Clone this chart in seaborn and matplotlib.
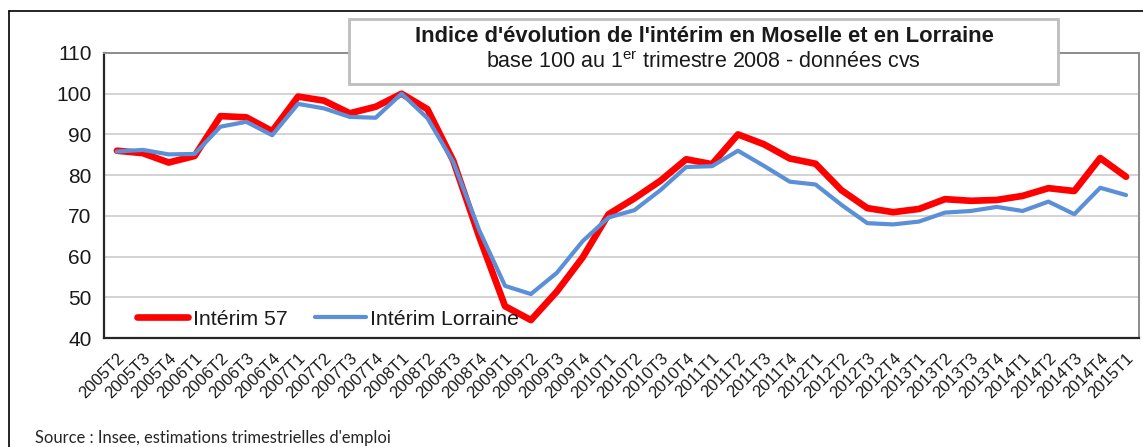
import numpy as np
import pandas as pd
import matplotlib
matplotlib.use("Agg")
import matplotlib.pyplot as plt
import seaborn as sns
from matplotlib.patches import Rectangle
from matplotlib.lines import Line2D

categories = ["2005T2", "2005T3", "2005T4",
              "2006T1", "2006T2", "2006T3", "2006T4",
              "2007T1", "2007T2", "2007T3", "2007T4",
              "2008T1", "2008T2", "2008T3", "2008T4",
              "2009T1", "2009T2", "2009T3", "2009T4",
              "2010T1", "2010T2", "2010T3", "2010T4",
              "2011T1", "2011T2", "2011T3", "2011T4",
              "2012T1", "2012T2", "2012T3", "2012T4",
              "2013T1", "2013T2", "2013T3", "2013T4",
              "2014T1", "2014T2", "2014T3", "2014T4",
              "2015T1"]

interim_57 = [86.0, 85.4, 83.1, 84.7, 94.5, 94.2, 90.8, 99.3, 98.3, 95.2,
              96.8, 100.0, 96.2, 83.5, 64.9, 47.8, 44.4, 51.4, 59.8, 70.4,
              74.3, 78.6, 83.9, 82.7, 90.0, 87.6, 84.1, 82.8, 76.3, 71.9,
              70.9, 71.7, 74.1, 73.7, 73.9, 74.9, 76.8, 76.1, 84.2, 79.6]

interim_lorraine = [85.8, 86.2, 85.1, 85.2, 91.9, 93.1, 89.8, 97.5, 96.4, 94.3,
                    94.1, 100.0, 94.0, 83.2, 66.5, 52.8, 50.8, 56.0, 63.8, 69.6,
                    71.4, 76.3, 82.0, 82.2, 86.0, 82.3, 78.4, 77.7, 72.7, 68.2,
                    67.9, 68.6, 70.8, 71.2, 72.2, 71.2, 73.5, 70.4, 76.9, 75.1]

y_ticks = [40, 50, 60, 70, 80, 90, 100, 110]

sns.set_theme(style="white")
plt.rcParams["font.family"] = ["Liberation Sans", "DejaVu Sans"]
plt.rcParams["mathtext.fontset"] = "custom"
plt.rcParams["mathtext.rm"] = "Liberation Sans"

W, H = 1143, 447
fig = plt.figure(figsize=(W / 100, H / 100), dpi=100)
fig.patch.set_facecolor("white")

ax = fig.add_axes([104 / W, 1 - 338 / H, (1139 - 104) / W, (338 - 53) / H])

pos = np.arange(len(categories))
df = pd.DataFrame({"pos": pos, "m57": interim_57, "lor": interim_lorraine})

sns.lineplot(data=df, x="pos", y="m57", ax=ax, color="#FF0000", linewidth=4.8,
             label="Intérim 57", solid_capstyle="round", zorder=3)
sns.lineplot(data=df, x="pos", y="lor", ax=ax, color="#5B8FD7", linewidth=3.0,
             label="Intérim Lorraine", solid_capstyle="round", zorder=4)

ax.set_xlim(-0.5, len(categories) - 0.5)
ax.set_ylim(40, 110)
ax.set_yticks(y_ticks)
ax.set_yticklabels([str(v) for v in y_ticks], fontsize=15, color="#1a1a1a")
ax.set_xticks(pos)
ax.set_xticklabels(categories, rotation=45, ha="right", rotation_mode="anchor",
                   fontsize=12, color="#1a1a1a")
ax.set_xticks(np.arange(-0.5, len(categories), 1.0), minor=True)
ax.tick_params(axis="x", which="major", length=0, pad=9)
ax.tick_params(axis="x", which="minor", length=5, width=1.2, color="#333333", direction="out")
ax.tick_params(axis="y", which="major", length=5, width=1.2, color="#333333", direction="out", pad=4)
ax.set_xlabel("")
ax.set_ylabel("")

ax.grid(False)
for v in y_ticks[1:-1]:
    ax.axhline(v, color="#D0D0D0", linewidth=1.3, zorder=1)

for side in ["left", "bottom"]:
    ax.spines[side].set_color("#262626")
    ax.spines[side].set_linewidth(1.6)
for side in ["top", "right"]:
    ax.spines[side].set_color("#8C8C8C")
    ax.spines[side].set_linewidth(1.4)

leg = ax.legend(loc="lower left", bbox_to_anchor=(0.02, -0.012), ncol=2, frameon=False,
                fontsize=15.3, handlelength=2.4, handletextpad=0.2, columnspacing=1.3,
                borderaxespad=0.2)
for t in leg.get_texts():
    t.set_color("#1a1a1a")

# outer frame
fig.add_artist(Line2D([9 / W, 9 / W], [0, 1 - 11 / H], color="#000000", linewidth=1.2,
                      transform=fig.transFigure))
fig.add_artist(Line2D([9 / W, 1], [1 - 11 / H, 1 - 11 / H], color="#000000", linewidth=1.2,
                      transform=fig.transFigure))

# title box
box = Rectangle((349 / W, 1 - 84 / H), (1058 - 349) / W, (84 - 19) / H,
                transform=fig.transFigure, facecolor="white", edgecolor="#BDBDBD",
                linewidth=2.0, zorder=10)
fig.add_artist(box)
fig.text(704 / W, 1 - 37 / H, "Indice d'évolution de l'intérim en Moselle et en Lorraine",
         ha="center", va="center", fontsize=15.8, fontweight="bold", color="#1a1a1a", zorder=11)
fig.text(703 / W, 1 - 62 / H, r"base 100 au 1$^{\mathrm{er}}$ trimestre 2008 - données cvs",
         ha="center", va="center", fontsize=15.5, color="#1a1a1a", zorder=11)

fig.text(35 / W, 1 - 438 / H, "Source : Insee, estimations trimestrielles d'emploi",
         ha="left", va="center", fontsize=11.9, family=["Lato", "DejaVu Sans"], color="#262626")

fig.savefig("out.png", dpi=100, facecolor="white")
